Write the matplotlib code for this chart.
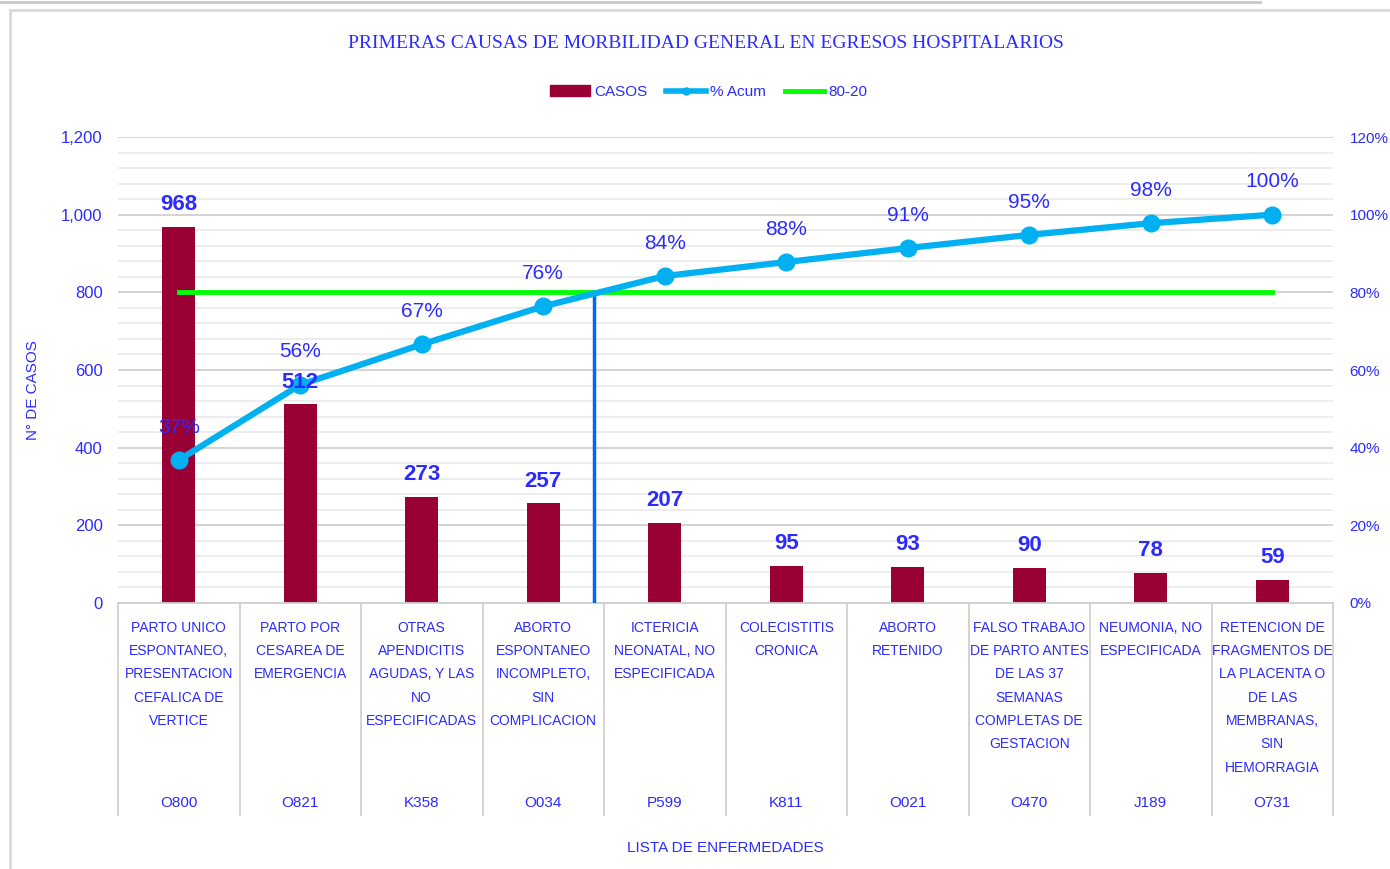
import matplotlib.pyplot as plt
from matplotlib.lines import Line2D
from matplotlib.patches import Patch, Rectangle
from matplotlib.ticker import FuncFormatter, MultipleLocator
import matplotlib.transforms as mtransforms

plt.rcParams['font.family'] = ['Liberation Sans Narrow', 'Liberation Sans', 'DejaVu Sans']

# data
codes = ["O800", "O821", "K358", "O034", "P599", "K811", "O021", "O470", "J189", "O731"]
causes = [
    "PARTO UNICO\nESPONTANEO,\nPRESENTACION\nCEFALICA DE\nVERTICE",
    "PARTO POR\nCESAREA DE\nEMERGENCIA",
    "OTRAS\nAPENDICITIS\nAGUDAS, Y LAS\nNO\nESPECIFICADAS",
    "ABORTO\nESPONTANEO\nINCOMPLETO,\nSIN\nCOMPLICACION",
    "ICTERICIA\nNEONATAL, NO\nESPECIFICADA",
    "COLECISTITIS\nCRONICA",
    "ABORTO\nRETENIDO",
    "FALSO TRABAJO\nDE PARTO ANTES\nDE LAS 37\nSEMANAS\nCOMPLETAS DE\nGESTACION",
    "NEUMONIA, NO\nESPECIFICADA",
    "RETENCION DE\nFRAGMENTOS DE\nLA PLACENTA O\nDE LAS\nMEMBRANAS,\nSIN\nHEMORRAGIA",
]
casos = [968, 512, 273, 257, 207, 95, 93, 90, 78, 59]
pct_acum = [36.8, 56.2, 66.6, 76.4, 84.2, 87.8, 91.4, 94.8, 97.8, 100.0]
pct_labels = ["37%", "56%", "67%", "76%", "84%", "88%", "91%", "95%", "98%", "100%"]
pareto_line = 80
cut_x = 3.42

BLUE = "#2b2bff"
BAR = "#990033"
LINE = "#00b0f0"
GREEN = "#00ff00"

fig = plt.figure(figsize=(13.9, 8.69), dpi=100)
W, H = 1390, 869
ax = fig.add_axes([118 / W, 1 - 603 / H, (1333 - 118) / W, (603 - 137) / H])
ax2 = ax.twinx()

x = list(range(len(casos)))
ax.bar(x, casos, width=0.27, color=BAR, zorder=2)
ax.set_xlim(-0.5, len(casos) - 0.5)
ax.set_ylim(0, 1200)
ax.yaxis.set_major_locator(MultipleLocator(200))
ax.yaxis.set_minor_locator(MultipleLocator(40))
ax.yaxis.set_major_formatter(FuncFormatter(lambda v, p: f"{int(v):,}"))
ax.grid(axis='y', which='major', color='#d0d0d0', lw=1.3, zorder=0)
ax.grid(axis='y', which='minor', color='#ececec', lw=1.3, zorder=0)
ax.set_axisbelow(True)
ax.tick_params(axis='y', which='both', length=0, labelcolor=BLUE, labelsize=12, pad=11)
ax.set_xticks([])
for s in ['top', 'right', 'left']:
    ax.spines[s].set_visible(False)
ax.spines['bottom'].set_color('#d0d0d0')
ax.spines['bottom'].set_linewidth(1.3)
ax.set_ylabel("N° DE CASOS", color=BLUE, fontsize=11)
ax.yaxis.set_label_coords(-78 / 1215, 0.457)

# category axis with two levels
trans = mtransforms.blended_transform_factory(ax.transData, ax.transAxes)
for i in range(len(casos) + 1):
    ax.add_line(Line2D([i - 0.5, i - 0.5], [0, -0.455], transform=trans,
                       color='#d0d0d0', lw=1.3, clip_on=False))
for xi, c, k in zip(x, causes, codes):
    ax.text(xi, -0.038, c, transform=trans, ha='center', va='top', color=BLUE,
            fontsize=10, linespacing=1.85)
    ax.text(xi, -0.43, k, transform=trans, ha='center', va='center', color=BLUE,
            fontsize=11)
ax.text(0.5, -0.525, "LISTA DE ENFERMEDADES", transform=ax.transAxes,
        ha='center', va='center', color=BLUE, fontsize=11)

# secondary axis: cumulative percent
ax2.set_ylim(0, 120)
ax2.yaxis.set_major_locator(MultipleLocator(20))
ax2.yaxis.set_major_formatter(FuncFormatter(lambda v, p: f"{int(v)}%"))
ax2.tick_params(axis='y', length=0, labelcolor=BLUE, labelsize=11, pad=12)
for s in ax2.spines.values():
    s.set_visible(False)
ax2.plot(x, [pareto_line] * len(x), color=GREEN, lw=3.5, zorder=3)
ax2.plot(x, pct_acum, color=LINE, lw=4.5, marker='o', ms=12, zorder=4)
ax2.plot([cut_x, cut_x], [0, pareto_line], color='#0066ff', lw=2.5, zorder=3)
for xi, p, lbl in zip(x, pct_acum, pct_labels):
    ax2.text(xi, p + 6, lbl, ha='center', va='bottom', color=BLUE, fontsize=15, zorder=5)

# bar value labels drawn on top of the line
for xi, v in zip(x, casos):
    ax2.text(xi, v + 30, str(v), transform=ax.transData, ha='center', va='bottom',
             color=BLUE, fontsize=16, fontweight='bold', zorder=6)

fig.text(706 / W, 1 - 44 / H,
         "PRIMERAS CAUSAS DE MORBILIDAD GENERAL EN EGRESOS HOSPITALARIOS",
         ha='center', va='center', color=BLUE, fontsize=14, family='Liberation Serif')

handles = [Patch(color=BAR, label="CASOS"),
           Line2D([], [], color=LINE, lw=4, marker='o', ms=5, label="% Acum"),
           Line2D([], [], color=GREEN, lw=3.5, label="80-20")]
fig.legend(handles=handles, loc='center', bbox_to_anchor=(709 / W, 1 - 92 / H), ncol=3,
           frameon=False, fontsize=11, labelcolor=BLUE, handlelength=2.6,
           handletextpad=0.3, columnspacing=1.2)

# chart frame
fig.patches.append(Rectangle((10 / W, -0.01), 1.1, 1 - 10 / H + 0.01,
                             transform=fig.transFigure, fill=False,
                             edgecolor='#d9d9d9', lw=2))
fig.add_artist(Line2D([0, 1260 / W], [1 - 2 / H, 1 - 2 / H], transform=fig.transFigure,
                      color='#c8c8c8', lw=2))

fig.savefig("out.png", dpi=100)
